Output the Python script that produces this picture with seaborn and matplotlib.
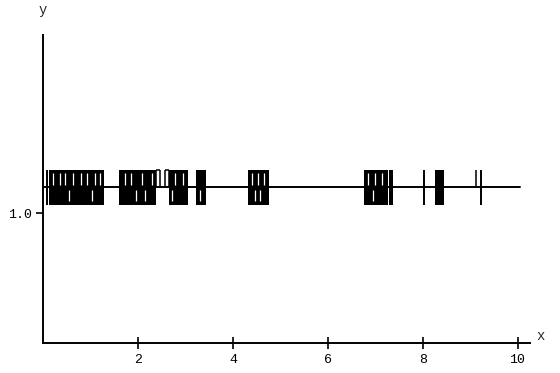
import numpy as np
import pandas as pd
import matplotlib
matplotlib.use("Agg")
import matplotlib.pyplot as plt
import seaborn as sns

# signal level and swing
base_level = 1.2
swing = 0.135
line_start, line_end = 0.02, 10.05

# dense switching bursts: start / end on x
burst_start = [0.13, 1.60, 2.65, 3.22, 4.32, 6.76, 7.30, 8.27]
burst_end = [1.28, 2.38, 3.05, 3.43, 4.76, 7.26, 7.37, 8.44]

# short pauses inside the bursts, above and below the base level
gap_up_x = [0.20, 0.35, 0.47, 0.62, 0.80, 0.93, 1.10, 1.20, 1.72, 1.85, 2.08, 2.30,
            2.78, 2.95, 4.40, 4.52, 4.65, 6.85, 7.00, 7.15]
gap_down_x = [0.55, 1.03, 1.95, 2.15, 2.72, 3.30, 4.47, 4.58, 6.95]

# single switches (thin vertical strokes)
spike_full_x = [0.08, 8.02, 9.22]
spike_up_x = [2.38, 2.47, 2.56, 2.65, 9.12]
top_run_start = [2.38, 2.56]
top_run_end = [2.47, 2.65]

x_ticks = [2, 4, 6, 8, 10]
y_ticks = [1.0]

sns.set_style("white")
plt.rcParams["font.family"] = ["Liberation Mono", "DejaVu Sans Mono"]

fig = plt.figure(figsize=(5.6, 3.73), dpi=100)
ax = fig.add_axes([0.077, 0.080, 0.870, 0.826])

base = pd.DataFrame({"x": [line_start, line_end], "y": [base_level, base_level]})
sns.lineplot(data=base, x="x", y="y", color="black", linewidth=1.4, ax=ax)

for s, e in zip(burst_start, burst_end):
    ax.fill_between([s, e], base_level - swing, base_level + swing, color="black", linewidth=0)

ax.vlines(gap_up_x, base_level + 0.02, base_level + swing - 0.025, color="white", linewidth=0.9)
ax.vlines(gap_down_x, base_level - swing + 0.025, base_level - 0.02, color="white", linewidth=0.9)

ax.vlines(spike_full_x, base_level - swing, base_level + swing, color="black", linewidth=1.4)
ax.vlines(spike_up_x, base_level, base_level + swing, color="black", linewidth=1.1)
ax.hlines([base_level + swing] * len(top_run_start), top_run_start, top_run_end,
          color="black", linewidth=1.1)

ax.set_xlim(0, 10.27)
ax.set_ylim(0, 2.37)
ax.set_xticks(x_ticks)
ax.set_xticklabels([str(t) for t in x_ticks])
ax.set_yticks(y_ticks)
ax.set_yticklabels(["1.0"])
ax.set_xlabel("")
ax.set_ylabel("")

for side in ["top", "right"]:
    ax.spines[side].set_visible(False)
for side in ["left", "bottom"]:
    ax.spines[side].set_color("black")
    ax.spines[side].set_linewidth(1.4)

ax.tick_params(axis="x", direction="inout", length=9, width=1.2, colors="black",
               labelsize=9.5, pad=3, bottom=True)
ax.tick_params(axis="y", direction="out", length=5, width=1.2, colors="black",
               labelsize=9.5, pad=3, left=True)

ax.text(1.02, 0.0, "x", transform=ax.transAxes, fontsize=10, ha="center", va="bottom")
ax.text(0.0, 1.06, "y", transform=ax.transAxes, fontsize=10, ha="center", va="bottom")

fig.savefig("out.png", dpi=100)
